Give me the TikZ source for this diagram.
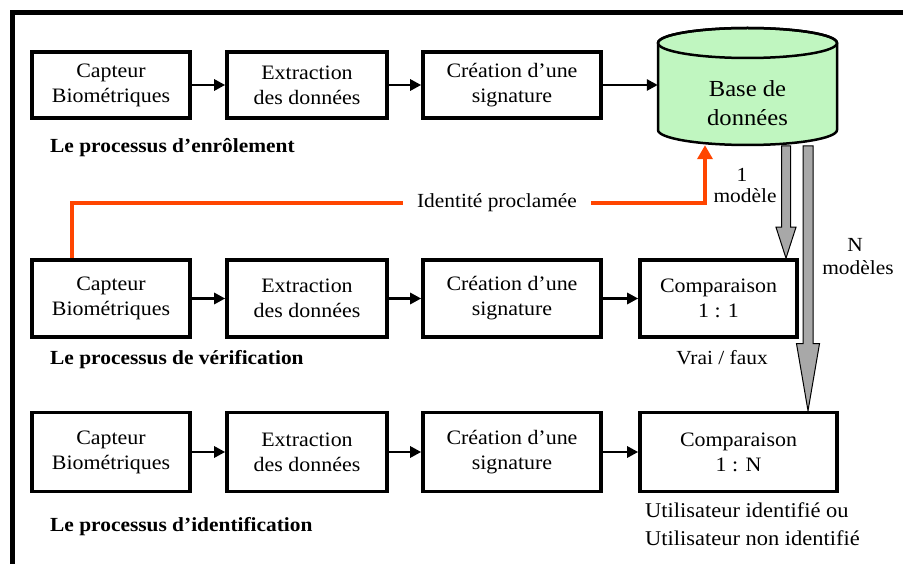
\documentclass[tikz,border=0pt]{standalone}
\usepackage{fontspec}
\setmainfont{Liberation Serif}[FakeStretch=1.07]
\usetikzlibrary{arrows.meta,calc}
\definecolor{dbgreen}{RGB}{192,246,192}
\definecolor{idred}{RGB}{255,69,0}
\definecolor{fatgray}{RGB}{168,168,168}
\begin{document}
\begin{tikzpicture}[x=1pt,y=-1pt,
  stepbox/.style={draw,line width=3.6pt,align=center,font=\fontsize{20.5}{25}\selectfont,inner sep=0pt},
  flow/.style={line width=2.8pt,-{Triangle[length=11pt,width=11pt]}},
  lbl/.style={font=\fontsize{20}{24}\selectfont,inner sep=0pt},
  ptitle/.style={font=\bfseries\fontsize{20}{24}\selectfont,anchor=west,inner sep=0pt},
  redline/.style={idred,line width=3.5pt},
  fat/.style={fill=fatgray,draw=black,line width=1pt}]
\useasboundingbox (0,0) rectangle (903,564);
\fill[white] (0,0) rectangle (903,564);
\draw[line width=5pt] (12.5,564) -- (12.5,12.5) -- (903,12.5);

% database cylinder
\path[fill=dbgreen,draw=black,line width=2.5pt] (658,43) -- (658,130)
  arc[start angle=180,end angle=0,x radius=89.5,y radius=15] -- (837,43)
  arc[start angle=0,end angle=-180,x radius=89.5,y radius=15] -- cycle;
\draw[line width=2.5pt] (747.5,43) ellipse[x radius=89.5,y radius=15];
\node[minimum width=179,minimum height=117,inner sep=0pt] (db) at (747.5,86.5) {};
\node[align=center,font=\fontsize{23}{29}\selectfont,inner sep=0pt] (dbt) at (747.5,103) {Base de\\données};

% row 1
\node[stepbox,minimum width=158,minimum height=66] (cap1) at (111,85) {Capteur\\Biométriques};
\node[stepbox,minimum width=160,minimum height=66] (ext1) at (307,85) {Extraction\\des données};
\node[stepbox,minimum width=178,minimum height=66] (cre1) at (512,85) {Création d’une\\signature};
\draw[flow] (cap1) -- (ext1);
\draw[flow] (ext1) -- (cre1);
\draw[flow] (cre1.east) -- (db.west |- cre1.east);
\node[ptitle] (t1) at (50,148) {Le processus d’enrôlement};

% row 2
\node[stepbox,minimum width=158,minimum height=77] (cap2) at (111,298.5) {Capteur\\Biométriques};
\node[stepbox,minimum width=160,minimum height=77] (ext2) at (307,298.5) {Extraction\\des données};
\node[stepbox,minimum width=178,minimum height=77] (cre2) at (512,298.5) {Création d’une\\signature};
\node[stepbox,minimum width=157,minimum height=77] (cmp2) at (718.5,298.5) {Comparaison\\1 : 1};
\draw[flow] (cap2) -- (ext2);
\draw[flow] (ext2) -- (cre2);
\draw[flow] (cre2) -- (cmp2);
\node[ptitle] (t2) at (50,360) {Le processus de vérification};
\node[lbl] (vf) at (722,358) {Vrai / faux};

% row 3
\node[stepbox,minimum width=158,minimum height=79] (cap3) at (111,452) {Capteur\\Biométriques};
\node[stepbox,minimum width=160,minimum height=79] (ext3) at (307,452) {Extraction\\des données};
\node[stepbox,minimum width=178,minimum height=79] (cre3) at (512,452) {Création d’une\\signature};
\node[stepbox,minimum width=197,minimum height=79] (cmp3) at (738.5,452) {Comparaison\\1 : N};
\draw[flow] (cap3) -- (ext3);
\draw[flow] (ext3) -- (cre3);
\draw[flow] (cre3) -- (cmp3);
\node[ptitle] (t3) at (50,527) {Le processus d’identification};
\node[align=left,anchor=north west,font=\fontsize{21}{28}\selectfont,inner sep=0pt] (res) at (645,503) {Utilisateur identifié ou\\Utilisateur non identifié};

% claimed identity (red)
\node[lbl,inner xsep=14pt] (idt) at (497,203) {Identité proclamée};
\coordinate (r1) at (72,203);
\coordinate (r2) at (705,203);
\draw[redline] (cap2.north -| r1) -- (r1) -- (idt.west);
\draw[redline,-{Triangle[length=14pt,width=15pt]}] (idt.east) -- (r2) -- (db.south -| r2);

% fat gray arrows
\coordinate (a1) at (786,146);
\coordinate (a1t) at (cmp2.north -| a1);
\draw[fat] ($(a1)+(-4.5,0)$) -- ($(a1t)+(-4.5,-31)$) -- ($(a1t)+(-10,-31)$) -- (a1t)
  -- ($(a1t)+(10,-31)$) -- ($(a1t)+(4.5,-31)$) -- ($(a1)+(4.5,0)$) -- cycle;
\coordinate (a2) at (808,146);
\coordinate (a2t) at (cmp3.north -| a2);
\draw[fat] ($(a2)+(-5,0)$) -- ($(a2t)+(-5,-67)$) -- ($(a2t)+(-11.5,-67)$) -- (a2t)
  -- ($(a2t)+(11.5,-67)$) -- ($(a2t)+(5,-67)$) -- ($(a2)+(5,0)$) -- cycle;
\node[lbl] (one) at (742,175) {1};
\node[lbl] (mod1) at (745,196) {modèle};
\node[lbl] (nn) at (855,245) {N};
\node[lbl] (modn) at (858,268) {modèles};
\end{tikzpicture}
\end{document}
